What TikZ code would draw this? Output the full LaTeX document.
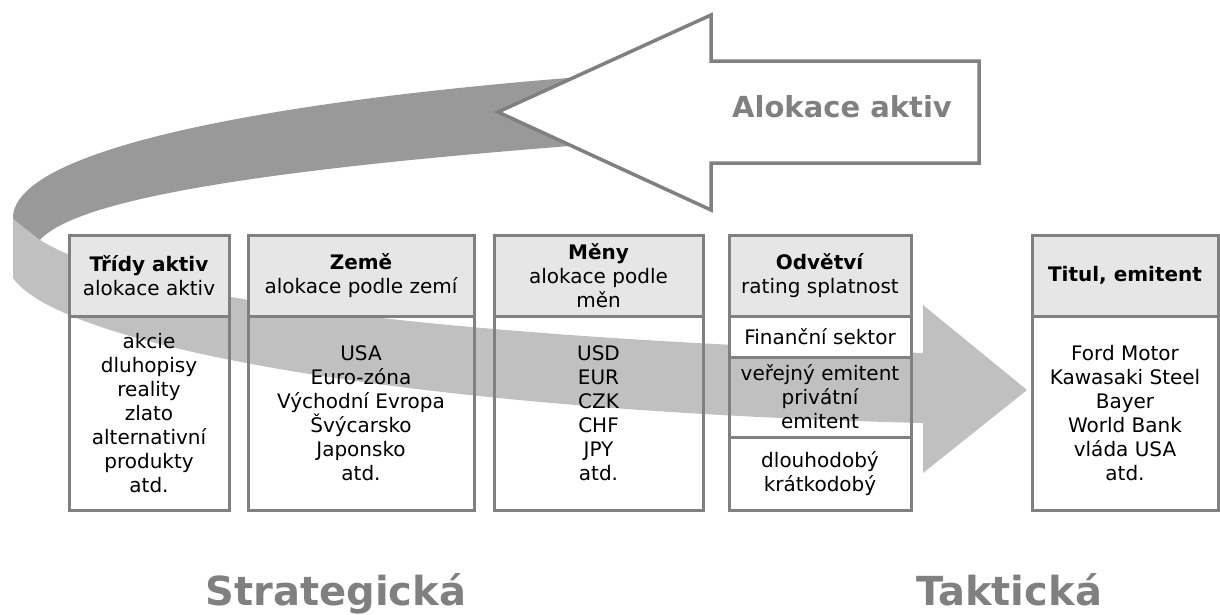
\documentclass[tikz,border=0pt]{standalone}
\usepackage{fontspec}
\setmainfont{DejaVu Sans}
\definecolor{bordergray}{HTML}{808080}
\definecolor{darkband}{HTML}{999999}
\definecolor{lightband}{HTML}{C0C0C0}
\definecolor{hdrfill}{HTML}{E6E6E6}
\begin{document}
\begin{tikzpicture}[x=1pt,y=-1pt,
  cell/.style={draw=bordergray, line width=3pt, inner sep=0pt, align=center,
    font=\fontsize{20}{24}\selectfont},
  hdr/.style={cell, fill=hdrfill},
  bigtext/.style={text=bordergray, font=\bfseries\fontsize{40}{48}\selectfont},
  ]
\useasboundingbox (0,0) rectangle (1220,614);
% light part of the band with the right arrow
\fill[lightband] (13,218) -- (13,278)
  .. controls (60,345) and (400,410) .. (923,423)
  -- (923,473) -- (1027,390) -- (923,305) -- (923,353)
  .. controls (400,335) and (130,295) .. (40,240)
  .. controls (28,230) and (18,224) .. (13,218) -- cycle;
% dark part of the band
\fill[darkband] (650,72)
  .. controls (300,95) and (13,145) .. (13,218)
  .. controls (18,224) and (28,230) .. (40,240)
  .. controls (80,195) and (300,165) .. (650,140) -- cycle;
% white arrow
\draw[bordergray, fill=white, line width=3.5pt, line join=miter]
  (498,112) -- (711,15) -- (711,61) -- (979,61) -- (979,163) -- (711,163) -- (711,210) -- cycle;
\node[text=bordergray, font=\bfseries\fontsize{29}{36}\selectfont] (alok) at (842,107) {Alokace aktiv};

% Box 1
\node[hdr, minimum width=160pt, minimum height=81pt] (h1) at (149,275.5)
  {\textbf{Třídy aktiv}\\alokace aktiv};
\node[cell, minimum width=160pt, minimum height=194pt] (b1) at (149,413)
  {akcie\\dluhopisy\\reality\\zlato\\alternativní\\produkty\\atd.};
% Box 2
\node[hdr, minimum width=226pt, minimum height=81pt] (h2) at (361,275.5)
  {\textbf{Země}\\alokace podle zemí};
\node[cell, minimum width=226pt, minimum height=194pt] (b2) at (361,413)
  {USA\\Euro-zóna\\Východní Evropa\\Švýcarsko\\Japonsko\\atd.};
% Box 3
\node[hdr, minimum width=209pt, minimum height=81pt] (h3) at (598.5,275.5)
  {\textbf{Měny}\\alokace podle\\měn};
\node[cell, minimum width=209pt, minimum height=194pt] (b3) at (598.5,413)
  {USD\\EUR\\CZK\\CHF\\JPY\\atd.};
% Box 4
\node[hdr, minimum width=182pt, minimum height=81pt] (h4) at (820,275.5)
  {\textbf{Odvětví}\\rating splatnost};
\node[cell, fill=white, minimum width=182pt, minimum height=41pt] (c4a) at (820,336.5)
  {Finanční sektor};
\node[cell, minimum width=182pt, minimum height=80pt] (c4b) at (820,397)
  {veřejný emitent\\privátní\\emitent};
\node[cell, fill=white, minimum width=182pt, minimum height=73pt] (c4c) at (820,473.5)
  {dlouhodobý\\krátkodobý};
% Box 5
\node[hdr, minimum width=186pt, minimum height=81pt] (h5) at (1125,275.5)
  {\textbf{Titul, emitent}};
\node[cell, minimum width=186pt, minimum height=194pt] (b5) at (1125,413)
  {Ford Motor\\Kawasaki Steel\\Bayer\\World Bank\\vláda USA\\atd.};

% bottom labels
\node[bigtext, anchor=base] (strat) at (336,605) {Strategická};
\node[bigtext, anchor=base] (takt) at (1009,605) {Taktická};
\end{tikzpicture}
\end{document}
